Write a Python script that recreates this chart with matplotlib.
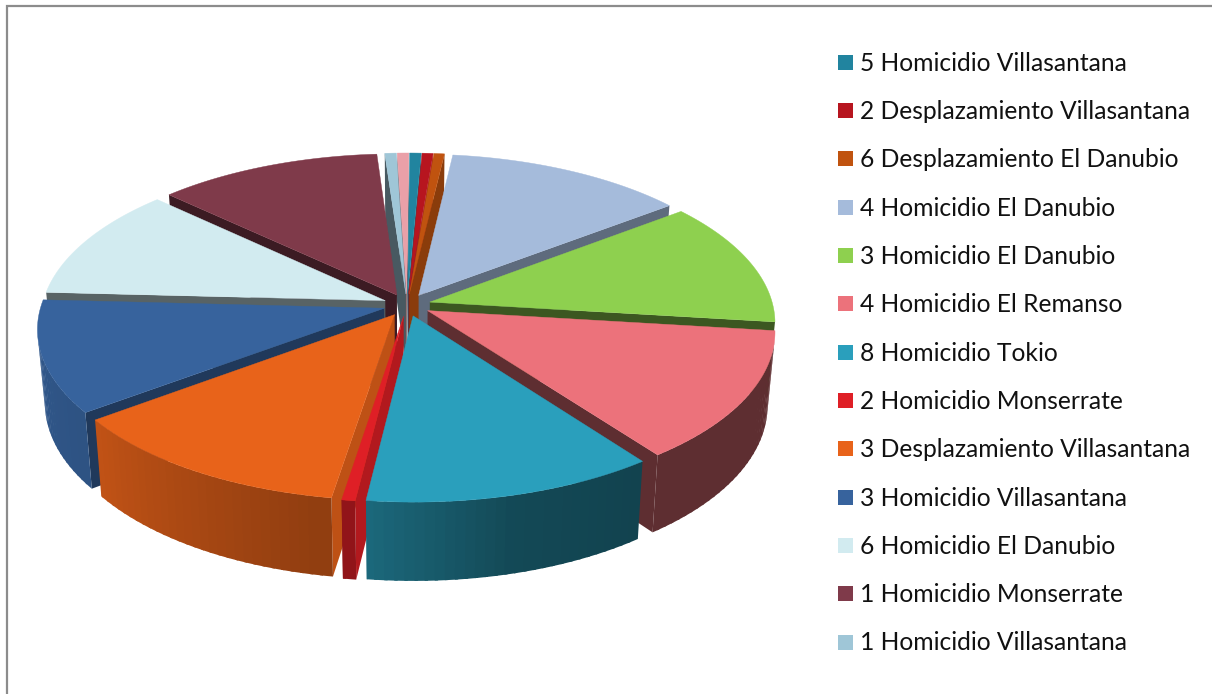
import numpy as np
import matplotlib
matplotlib.use("Agg")
import matplotlib.pyplot as plt
from matplotlib.patches import Polygon, Rectangle

# --- datos ---
categorias = [
    "5 Homicidio Villasantana",
    "2 Desplazamiento Villasantana",
    "6 Desplazamiento El Danubio",
    "4 Homicidio El Danubio",
    "3 Homicidio El Danubio",
    "4 Homicidio El Remanso",
    "8 Homicidio Tokio",
    "2 Homicidio Monserrate",
    "3 Desplazamiento Villasantana",
    "3 Homicidio Villasantana",
    "6 Homicidio El Danubio",
    "1 Homicidio Monserrate",
    "1 Homicidio Villasantana",
]
# la ultima porcion no tiene entrada visible en la leyenda
valores = [2.2, 2.1, 2, 45.8, 44.5, 46.4, 43.6, 2, 44.2, 39.8, 40.3, 42.7, 2.2, 2.2]

colores = ["#21849F", "#B7151F", "#C0530F", "#A5BBDB", "#8ED04F", "#EC727B", "#2A9FBC",
           "#DF1F26", "#E8631A", "#37639D", "#D2EBF0", "#7F3A4A", "#9FC6D7", "#EAA0A8"]
# oscurecido de la cara radial de cada porcion
sombra_cara = [.7, .8, .72, .57, .42, .40, .6, .8, .82, .58, .42, .47, .45, .5]

# --- geometria del pastel ---
CX, CY = 407, 305
R = 343
KR = 160.7
D = 8.2
EXPL = 24 / 347
ALTO = 72
INICIO = 0.4


def proyectar(x, u, arriba=True):
    s = D / (D + u)
    X = CX + R * x * s
    Y = CY - KR * u * s
    if not arriba:
        X = CX + (X - CX) * 0.98
        Y = CY + (Y - CY) * 0.98 + ALTO * (1 - 0.14 * u)
    return X, Y


def tono(color, f):
    return tuple(c * f for c in matplotlib.colors.to_rgb(color))


def sombra_borde(phi):
    return np.interp(phi, [100, 143, 144, 165, 187, 190, 232, 270, 360],
                     [.40, .40, .42, .46, .66, .62, .83, .90, .90])


def cara(ax, pts, color, z):
    pts = np.array(pts)
    # solo caras que miran al observador (eje y invertido)
    x, y = pts[:, 0], pts[:, 1]
    area = 0.5 * np.sum(x * np.roll(y, -1) - np.roll(x, -1) * y)
    if area >= 0:
        return
    ax.add_patch(Polygon(pts, closed=True, fc=color, ec="none", zorder=z))


fig = plt.figure(figsize=(12.12, 6.94), dpi=100)
ax = fig.add_axes([0, 0, 1, 1])
ax.set_xlim(0, 1212)
ax.set_ylim(694, 0)
ax.axis("off")

limites = np.concatenate([[0], np.cumsum(valores)]) * 360 / np.sum(valores) + INICIO


def dist_frente(a, b):
    if a <= 180 <= b:
        return 0
    return min(abs(a - 180), abs(b - 180))


orden = sorted(range(len(valores)), key=lambda i: -dist_frente(limites[i], limites[i + 1]))

for z, i in enumerate(orden):
    a, b = limites[i], limites[i + 1]
    medio = np.radians((a + b) / 2)
    ox, ou = EXPL * np.sin(medio), EXPL * np.cos(medio)
    t = np.radians(np.arange(a, b, 0.5).tolist() + [b])
    xs, us = ox + np.sin(t), ou + np.cos(t)
    arr = np.array([proyectar(x, u) for x, u in zip(xs, us)])
    aba = np.array([proyectar(x, u, False) for x, u in zip(xs, us)])
    ap_t = proyectar(ox, ou)
    ap_b = proyectar(ox, ou, False)
    col = colores[i]
    f = sombra_cara[i]
    base = z * 1000

    # caras radiales
    cara(ax, [ap_t, arr[0], aba[0], ap_b], tono(col, f), base)
    cara(ax, [arr[-1], ap_t, ap_b, aba[-1]], tono(col, f), base + 1)
    # borde exterior en bandas, cada una solapa la siguiente para no dejar costuras
    paso = 3
    n = len(t)
    for nb, j in enumerate(range(0, n - 1, paso)):
        k = min(j + paso, n - 1)
        fin = min(k + 2, n)
        phi = np.degrees(t[j:k + 1].mean())
        q = np.vstack([arr[j:fin], aba[j:fin][::-1]])
        cara(ax, q, tono(col, sombra_borde(phi)), base + 500 - nb)
    # tapa
    ax.add_patch(Polygon(np.vstack([[ap_t], arr]), closed=True, fc=col, ec=col, lw=0.3, zorder=base + 600))

# marco
ax.plot([7, 7, 1212], [694, 6, 6], color="#8C8C8C", lw=1.6, solid_joinstyle="miter", zorder=50000)

# leyenda
ys = np.linspace(62, 642, len(categorias))
for y, nombre, col in zip(ys, categorias, colores):
    ax.add_patch(Rectangle((838, y - 7.5), 15, 15, fc=col, ec="none", zorder=50000))
    ax.text(860, y + 1, nombre, fontsize=17.7, family="Lato", color="#111111", va="center", ha="left", zorder=50000)

fig.savefig("out.png", dpi=100)
